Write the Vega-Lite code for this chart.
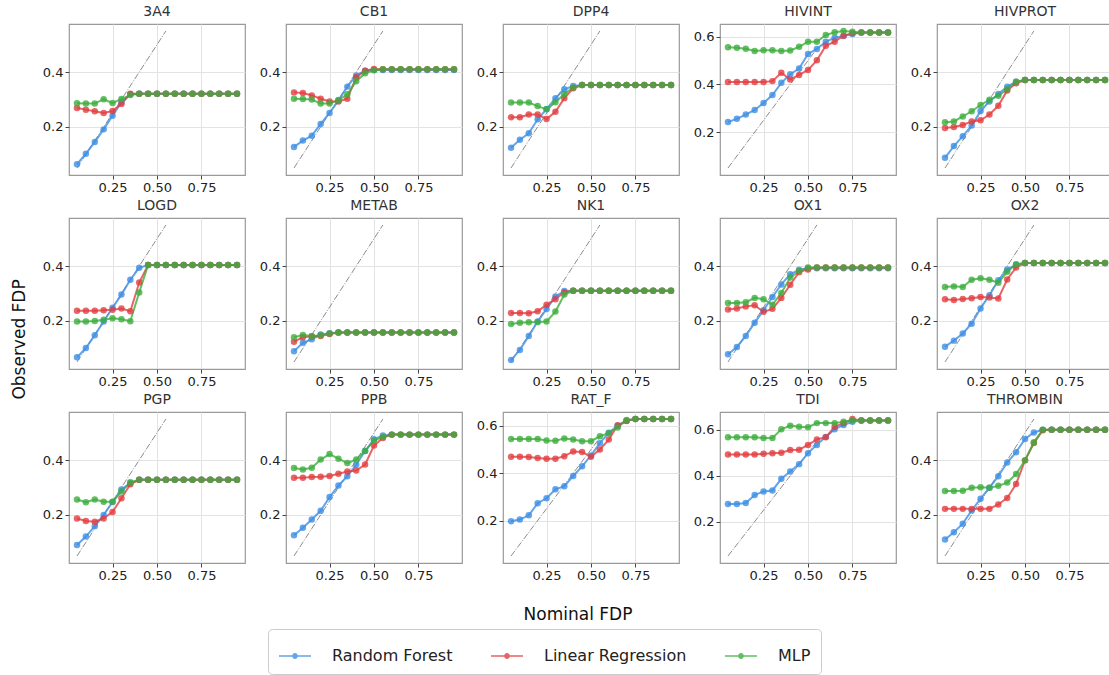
{
"$schema": "https://vega.github.io/schema/vega-lite/v6.json",
"padding": {"left": 10, "top": 4, "right": 0, "bottom": 0},
"background": "white",
"config": {
  "font": "DejaVu Sans",
  "view": {"stroke": "#9a9a9a", "strokeWidth": 1.2},
  "axis": {"gridColor": "#e3e3e3", "domain": false, "tickColor": "#444", "labelFontSize": 13, "labelColor": "#222", "tickSize": 4, "labelPadding": 2, "title": null},
  "header": {"labelFontWeight": 400, "labelFontSize": 14, "titleFontWeight": 400},
  "headerFacet": {"labelFontWeight": 400, "labelFontSize": 14, "titleFontWeight": 400},
  "title": {"fontWeight": 400},
  "style": {"group-title": {"fontWeight": 400}, "guide-title": {"fontWeight": 400}, "guide-label": {"fontWeight": 400}},
  "legend": {"labelFontSize": 16, "labelColor": "#222"}
},
"title": {"text": "Observed FDP", "orient": "left", "fontSize": 17, "fontWeight": "normal", "anchor": "middle", "offset": 13, "color": "#111"},
"data": {"values": [
{"p":"3A4","x":0.05,"a":0.064,"b":0.269,"c":0.286,"g":0.05},
{"p":"3A4","x":0.1,"a":0.102,"b":0.263,"c":0.285},
{"p":"3A4","x":0.15,"a":0.145,"b":0.257,"c":0.285},
{"p":"3A4","x":0.2,"a":0.191,"b":0.251,"c":0.301},
{"p":"3A4","x":0.25,"a":0.241,"b":0.258,"c":0.287},
{"p":"3A4","x":0.3,"a":0.29,"b":0.284,"c":0.302},
{"p":"3A4","x":0.35,"a":0.319,"b":0.321,"c":0.316},
{"p":"3A4","x":0.4,"a":0.321,"b":0.321,"c":0.321},
{"p":"3A4","x":0.45,"a":0.321,"b":0.321,"c":0.321},
{"p":"3A4","x":0.5,"a":0.321,"b":0.321,"c":0.321},
{"p":"3A4","x":0.55,"a":0.321,"b":0.321,"c":0.321,"g":0.55},
{"p":"3A4","x":0.6,"a":0.321,"b":0.321,"c":0.321},
{"p":"3A4","x":0.65,"a":0.321,"b":0.321,"c":0.321},
{"p":"3A4","x":0.7,"a":0.321,"b":0.321,"c":0.321},
{"p":"3A4","x":0.75,"a":0.321,"b":0.321,"c":0.321},
{"p":"3A4","x":0.8,"a":0.321,"b":0.321,"c":0.321},
{"p":"3A4","x":0.85,"a":0.321,"b":0.321,"c":0.321},
{"p":"3A4","x":0.9,"a":0.321,"b":0.321,"c":0.321},
{"p":"3A4","x":0.95,"a":0.321,"b":0.321,"c":0.321},
{"p":"CB1","x":0.05,"a":0.127,"b":0.326,"c":0.303,"g":0.05},
{"p":"CB1","x":0.1,"a":0.15,"b":0.324,"c":0.302},
{"p":"CB1","x":0.15,"a":0.168,"b":0.315,"c":0.3},
{"p":"CB1","x":0.2,"a":0.211,"b":0.303,"c":0.285},
{"p":"CB1","x":0.25,"a":0.251,"b":0.293,"c":0.285},
{"p":"CB1","x":0.3,"a":0.296,"b":0.293,"c":0.298},
{"p":"CB1","x":0.35,"a":0.347,"b":0.303,"c":0.319},
{"p":"CB1","x":0.4,"a":0.388,"b":0.381,"c":0.367},
{"p":"CB1","x":0.45,"a":0.405,"b":0.405,"c":0.396},
{"p":"CB1","x":0.5,"a":0.408,"b":0.411,"c":0.407},
{"p":"CB1","x":0.55,"a":0.408,"b":0.41,"c":0.41,"g":0.55},
{"p":"CB1","x":0.6,"a":0.408,"b":0.41,"c":0.41},
{"p":"CB1","x":0.65,"a":0.408,"b":0.41,"c":0.41},
{"p":"CB1","x":0.7,"a":0.408,"b":0.41,"c":0.41},
{"p":"CB1","x":0.75,"a":0.408,"b":0.41,"c":0.41},
{"p":"CB1","x":0.8,"a":0.408,"b":0.41,"c":0.41},
{"p":"CB1","x":0.85,"a":0.408,"b":0.41,"c":0.41},
{"p":"CB1","x":0.9,"a":0.408,"b":0.41,"c":0.41},
{"p":"CB1","x":0.95,"a":0.408,"b":0.41,"c":0.41},
{"p":"DPP4","x":0.05,"a":0.124,"b":0.235,"c":0.289,"g":0.05},
{"p":"DPP4","x":0.1,"a":0.153,"b":0.235,"c":0.289},
{"p":"DPP4","x":0.15,"a":0.177,"b":0.245,"c":0.289},
{"p":"DPP4","x":0.2,"a":0.228,"b":0.245,"c":0.276},
{"p":"DPP4","x":0.25,"a":0.265,"b":0.229,"c":0.264},
{"p":"DPP4","x":0.3,"a":0.305,"b":0.255,"c":0.29},
{"p":"DPP4","x":0.35,"a":0.337,"b":0.305,"c":0.32},
{"p":"DPP4","x":0.4,"a":0.349,"b":0.341,"c":0.344},
{"p":"DPP4","x":0.45,"a":0.353,"b":0.353,"c":0.353},
{"p":"DPP4","x":0.5,"a":0.353,"b":0.353,"c":0.353},
{"p":"DPP4","x":0.55,"a":0.353,"b":0.353,"c":0.353,"g":0.55},
{"p":"DPP4","x":0.6,"a":0.353,"b":0.353,"c":0.353},
{"p":"DPP4","x":0.65,"a":0.353,"b":0.353,"c":0.353},
{"p":"DPP4","x":0.7,"a":0.353,"b":0.353,"c":0.353},
{"p":"DPP4","x":0.75,"a":0.353,"b":0.353,"c":0.353},
{"p":"DPP4","x":0.8,"a":0.353,"b":0.353,"c":0.353},
{"p":"DPP4","x":0.85,"a":0.353,"b":0.353,"c":0.353},
{"p":"DPP4","x":0.9,"a":0.353,"b":0.353,"c":0.353},
{"p":"DPP4","x":0.95,"a":0.353,"b":0.353,"c":0.353},
{"p":"HIVINT","x":0.05,"a":0.243,"b":0.41,"c":0.556,"g":0.05},
{"p":"HIVINT","x":0.1,"a":0.256,"b":0.41,"c":0.554},
{"p":"HIVINT","x":0.15,"a":0.274,"b":0.41,"c":0.55},
{"p":"HIVINT","x":0.2,"a":0.293,"b":0.41,"c":0.54},
{"p":"HIVINT","x":0.25,"a":0.322,"b":0.41,"c":0.543},
{"p":"HIVINT","x":0.3,"a":0.356,"b":0.414,"c":0.543},
{"p":"HIVINT","x":0.35,"a":0.407,"b":0.449,"c":0.54},
{"p":"HIVINT","x":0.4,"a":0.443,"b":0.421,"c":0.542},
{"p":"HIVINT","x":0.45,"a":0.467,"b":0.44,"c":0.558},
{"p":"HIVINT","x":0.5,"a":0.528,"b":0.461,"c":0.579},
{"p":"HIVINT","x":0.55,"a":0.549,"b":0.501,"c":0.579,"g":0.55},
{"p":"HIVINT","x":0.6,"a":0.579,"b":0.562,"c":0.607},
{"p":"HIVINT","x":0.65,"a":0.596,"b":0.579,"c":0.619},
{"p":"HIVINT","x":0.7,"a":0.603,"b":0.604,"c":0.624},
{"p":"HIVINT","x":0.75,"a":0.611,"b":0.615,"c":0.621},
{"p":"HIVINT","x":0.8,"a":0.618,"b":0.618,"c":0.618},
{"p":"HIVINT","x":0.85,"a":0.618,"b":0.618,"c":0.618},
{"p":"HIVINT","x":0.9,"a":0.618,"b":0.618,"c":0.618},
{"p":"HIVINT","x":0.95,"a":0.618,"b":0.618,"c":0.618},
{"p":"HIVPROT","x":0.05,"a":0.087,"b":0.196,"c":0.217,"g":0.05},
{"p":"HIVPROT","x":0.1,"a":0.13,"b":0.2,"c":0.22},
{"p":"HIVPROT","x":0.15,"a":0.166,"b":0.207,"c":0.238},
{"p":"HIVPROT","x":0.2,"a":0.205,"b":0.22,"c":0.257},
{"p":"HIVPROT","x":0.25,"a":0.258,"b":0.224,"c":0.28},
{"p":"HIVPROT","x":0.3,"a":0.293,"b":0.245,"c":0.299},
{"p":"HIVPROT","x":0.35,"a":0.32,"b":0.277,"c":0.314},
{"p":"HIVPROT","x":0.4,"a":0.347,"b":0.333,"c":0.337},
{"p":"HIVPROT","x":0.45,"a":0.365,"b":0.359,"c":0.365},
{"p":"HIVPROT","x":0.5,"a":0.371,"b":0.371,"c":0.371},
{"p":"HIVPROT","x":0.55,"a":0.371,"b":0.371,"c":0.371,"g":0.55},
{"p":"HIVPROT","x":0.6,"a":0.371,"b":0.371,"c":0.371},
{"p":"HIVPROT","x":0.65,"a":0.371,"b":0.371,"c":0.371},
{"p":"HIVPROT","x":0.7,"a":0.371,"b":0.371,"c":0.371},
{"p":"HIVPROT","x":0.75,"a":0.371,"b":0.371,"c":0.371},
{"p":"HIVPROT","x":0.8,"a":0.371,"b":0.371,"c":0.371},
{"p":"HIVPROT","x":0.85,"a":0.371,"b":0.371,"c":0.371},
{"p":"HIVPROT","x":0.9,"a":0.371,"b":0.371,"c":0.371},
{"p":"HIVPROT","x":0.95,"a":0.371,"b":0.371,"c":0.371},
{"p":"LOGD","x":0.05,"a":0.067,"b":0.237,"c":0.198,"g":0.05},
{"p":"LOGD","x":0.1,"a":0.101,"b":0.237,"c":0.198},
{"p":"LOGD","x":0.15,"a":0.148,"b":0.237,"c":0.2},
{"p":"LOGD","x":0.2,"a":0.198,"b":0.239,"c":0.204},
{"p":"LOGD","x":0.25,"a":0.248,"b":0.241,"c":0.21},
{"p":"LOGD","x":0.3,"a":0.296,"b":0.245,"c":0.206},
{"p":"LOGD","x":0.35,"a":0.35,"b":0.235,"c":0.199},
{"p":"LOGD","x":0.4,"a":0.394,"b":0.34,"c":0.304},
{"p":"LOGD","x":0.45,"a":0.404,"b":0.404,"c":0.404},
{"p":"LOGD","x":0.5,"a":0.404,"b":0.404,"c":0.404},
{"p":"LOGD","x":0.55,"a":0.404,"b":0.404,"c":0.404,"g":0.55},
{"p":"LOGD","x":0.6,"a":0.404,"b":0.404,"c":0.404},
{"p":"LOGD","x":0.65,"a":0.404,"b":0.404,"c":0.404},
{"p":"LOGD","x":0.7,"a":0.404,"b":0.404,"c":0.404},
{"p":"LOGD","x":0.75,"a":0.404,"b":0.404,"c":0.404},
{"p":"LOGD","x":0.8,"a":0.404,"b":0.404,"c":0.404},
{"p":"LOGD","x":0.85,"a":0.404,"b":0.404,"c":0.404},
{"p":"LOGD","x":0.9,"a":0.404,"b":0.404,"c":0.404},
{"p":"LOGD","x":0.95,"a":0.404,"b":0.404,"c":0.404},
{"p":"METAB","x":0.05,"a":0.089,"b":0.124,"c":0.14,"g":0.05},
{"p":"METAB","x":0.1,"a":0.12,"b":0.14,"c":0.149},
{"p":"METAB","x":0.15,"a":0.133,"b":0.144,"c":0.144},
{"p":"METAB","x":0.2,"a":0.15,"b":0.145,"c":0.148},
{"p":"METAB","x":0.25,"a":0.155,"b":0.152,"c":0.154},
{"p":"METAB","x":0.3,"a":0.158,"b":0.158,"c":0.158},
{"p":"METAB","x":0.35,"a":0.158,"b":0.158,"c":0.158},
{"p":"METAB","x":0.4,"a":0.158,"b":0.158,"c":0.158},
{"p":"METAB","x":0.45,"a":0.158,"b":0.158,"c":0.158},
{"p":"METAB","x":0.5,"a":0.158,"b":0.158,"c":0.158},
{"p":"METAB","x":0.55,"a":0.158,"b":0.158,"c":0.158,"g":0.55},
{"p":"METAB","x":0.6,"a":0.158,"b":0.158,"c":0.158},
{"p":"METAB","x":0.65,"a":0.158,"b":0.158,"c":0.158},
{"p":"METAB","x":0.7,"a":0.158,"b":0.158,"c":0.158},
{"p":"METAB","x":0.75,"a":0.158,"b":0.158,"c":0.158},
{"p":"METAB","x":0.8,"a":0.158,"b":0.158,"c":0.158},
{"p":"METAB","x":0.85,"a":0.158,"b":0.158,"c":0.158},
{"p":"METAB","x":0.9,"a":0.158,"b":0.158,"c":0.158},
{"p":"METAB","x":0.95,"a":0.158,"b":0.158,"c":0.158},
{"p":"NK1","x":0.05,"a":0.057,"b":0.229,"c":0.189,"g":0.05},
{"p":"NK1","x":0.1,"a":0.094,"b":0.229,"c":0.193},
{"p":"NK1","x":0.15,"a":0.145,"b":0.228,"c":0.195},
{"p":"NK1","x":0.2,"a":0.198,"b":0.235,"c":0.196},
{"p":"NK1","x":0.25,"a":0.243,"b":0.259,"c":0.198},
{"p":"NK1","x":0.3,"a":0.289,"b":0.279,"c":0.234},
{"p":"NK1","x":0.35,"a":0.309,"b":0.305,"c":0.296},
{"p":"NK1","x":0.4,"a":0.31,"b":0.31,"c":0.31},
{"p":"NK1","x":0.45,"a":0.31,"b":0.31,"c":0.31},
{"p":"NK1","x":0.5,"a":0.31,"b":0.31,"c":0.31},
{"p":"NK1","x":0.55,"a":0.31,"b":0.31,"c":0.31,"g":0.55},
{"p":"NK1","x":0.6,"a":0.31,"b":0.31,"c":0.31},
{"p":"NK1","x":0.65,"a":0.31,"b":0.31,"c":0.31},
{"p":"NK1","x":0.7,"a":0.31,"b":0.31,"c":0.31},
{"p":"NK1","x":0.75,"a":0.31,"b":0.31,"c":0.31},
{"p":"NK1","x":0.8,"a":0.31,"b":0.31,"c":0.31},
{"p":"NK1","x":0.85,"a":0.31,"b":0.31,"c":0.31},
{"p":"NK1","x":0.9,"a":0.31,"b":0.31,"c":0.31},
{"p":"NK1","x":0.95,"a":0.31,"b":0.31,"c":0.31},
{"p":"OX1","x":0.05,"a":0.078,"b":0.242,"c":0.265,"g":0.05},
{"p":"OX1","x":0.1,"a":0.105,"b":0.245,"c":0.265},
{"p":"OX1","x":0.15,"a":0.145,"b":0.253,"c":0.268},
{"p":"OX1","x":0.2,"a":0.193,"b":0.257,"c":0.284},
{"p":"OX1","x":0.25,"a":0.239,"b":0.233,"c":0.279},
{"p":"OX1","x":0.3,"a":0.287,"b":0.244,"c":0.259},
{"p":"OX1","x":0.35,"a":0.333,"b":0.284,"c":0.302},
{"p":"OX1","x":0.4,"a":0.37,"b":0.332,"c":0.358},
{"p":"OX1","x":0.45,"a":0.387,"b":0.378,"c":0.382},
{"p":"OX1","x":0.5,"a":0.392,"b":0.388,"c":0.395},
{"p":"OX1","x":0.55,"a":0.392,"b":0.395,"c":0.395,"g":0.55},
{"p":"OX1","x":0.6,"a":0.392,"b":0.395,"c":0.395},
{"p":"OX1","x":0.65,"a":0.392,"b":0.395,"c":0.395},
{"p":"OX1","x":0.7,"a":0.392,"b":0.395,"c":0.395},
{"p":"OX1","x":0.75,"a":0.392,"b":0.395,"c":0.395},
{"p":"OX1","x":0.8,"a":0.392,"b":0.395,"c":0.395},
{"p":"OX1","x":0.85,"a":0.392,"b":0.395,"c":0.395},
{"p":"OX1","x":0.9,"a":0.392,"b":0.395,"c":0.395},
{"p":"OX1","x":0.95,"a":0.392,"b":0.395,"c":0.395},
{"p":"OX2","x":0.05,"a":0.106,"b":0.279,"c":0.324,"g":0.05},
{"p":"OX2","x":0.1,"a":0.128,"b":0.276,"c":0.326},
{"p":"OX2","x":0.15,"a":0.154,"b":0.28,"c":0.324},
{"p":"OX2","x":0.2,"a":0.19,"b":0.283,"c":0.35},
{"p":"OX2","x":0.25,"a":0.245,"b":0.287,"c":0.356},
{"p":"OX2","x":0.3,"a":0.294,"b":0.285,"c":0.35},
{"p":"OX2","x":0.35,"a":0.348,"b":0.282,"c":0.339},
{"p":"OX2","x":0.4,"a":0.388,"b":0.351,"c":0.379},
{"p":"OX2","x":0.45,"a":0.405,"b":0.395,"c":0.407},
{"p":"OX2","x":0.5,"a":0.411,"b":0.411,"c":0.411},
{"p":"OX2","x":0.55,"a":0.411,"b":0.411,"c":0.411,"g":0.55},
{"p":"OX2","x":0.6,"a":0.411,"b":0.411,"c":0.411},
{"p":"OX2","x":0.65,"a":0.411,"b":0.411,"c":0.411},
{"p":"OX2","x":0.7,"a":0.411,"b":0.411,"c":0.411},
{"p":"OX2","x":0.75,"a":0.411,"b":0.411,"c":0.411},
{"p":"OX2","x":0.8,"a":0.411,"b":0.411,"c":0.411},
{"p":"OX2","x":0.85,"a":0.411,"b":0.411,"c":0.411},
{"p":"OX2","x":0.9,"a":0.411,"b":0.411,"c":0.411},
{"p":"OX2","x":0.95,"a":0.411,"b":0.411,"c":0.411},
{"p":"PGP","x":0.05,"a":0.09,"b":0.187,"c":0.256,"g":0.05},
{"p":"PGP","x":0.1,"a":0.121,"b":0.178,"c":0.246},
{"p":"PGP","x":0.15,"a":0.159,"b":0.175,"c":0.256},
{"p":"PGP","x":0.2,"a":0.2,"b":0.187,"c":0.248},
{"p":"PGP","x":0.25,"a":0.247,"b":0.211,"c":0.248},
{"p":"PGP","x":0.3,"a":0.293,"b":0.261,"c":0.285},
{"p":"PGP","x":0.35,"a":0.316,"b":0.312,"c":0.319},
{"p":"PGP","x":0.4,"a":0.328,"b":0.328,"c":0.328},
{"p":"PGP","x":0.45,"a":0.328,"b":0.328,"c":0.328},
{"p":"PGP","x":0.5,"a":0.328,"b":0.328,"c":0.328},
{"p":"PGP","x":0.55,"a":0.328,"b":0.328,"c":0.328,"g":0.55},
{"p":"PGP","x":0.6,"a":0.328,"b":0.328,"c":0.328},
{"p":"PGP","x":0.65,"a":0.328,"b":0.328,"c":0.328},
{"p":"PGP","x":0.7,"a":0.328,"b":0.328,"c":0.328},
{"p":"PGP","x":0.75,"a":0.328,"b":0.328,"c":0.328},
{"p":"PGP","x":0.8,"a":0.328,"b":0.328,"c":0.328},
{"p":"PGP","x":0.85,"a":0.328,"b":0.328,"c":0.328},
{"p":"PGP","x":0.9,"a":0.328,"b":0.328,"c":0.328},
{"p":"PGP","x":0.95,"a":0.328,"b":0.328,"c":0.328},
{"p":"PPB","x":0.05,"a":0.126,"b":0.336,"c":0.371,"g":0.05},
{"p":"PPB","x":0.1,"a":0.153,"b":0.336,"c":0.366},
{"p":"PPB","x":0.15,"a":0.183,"b":0.338,"c":0.372},
{"p":"PPB","x":0.2,"a":0.215,"b":0.339,"c":0.402},
{"p":"PPB","x":0.25,"a":0.265,"b":0.342,"c":0.422},
{"p":"PPB","x":0.3,"a":0.307,"b":0.35,"c":0.405},
{"p":"PPB","x":0.35,"a":0.341,"b":0.358,"c":0.389},
{"p":"PPB","x":0.4,"a":0.383,"b":0.362,"c":0.402},
{"p":"PPB","x":0.45,"a":0.433,"b":0.384,"c":0.433},
{"p":"PPB","x":0.5,"a":0.476,"b":0.453,"c":0.472},
{"p":"PPB","x":0.55,"a":0.49,"b":0.481,"c":0.484,"g":0.55},
{"p":"PPB","x":0.6,"a":0.493,"b":0.493,"c":0.493},
{"p":"PPB","x":0.65,"a":0.493,"b":0.493,"c":0.493},
{"p":"PPB","x":0.7,"a":0.493,"b":0.493,"c":0.493},
{"p":"PPB","x":0.75,"a":0.493,"b":0.493,"c":0.493},
{"p":"PPB","x":0.8,"a":0.493,"b":0.493,"c":0.493},
{"p":"PPB","x":0.85,"a":0.493,"b":0.493,"c":0.493},
{"p":"PPB","x":0.9,"a":0.493,"b":0.493,"c":0.493},
{"p":"PPB","x":0.95,"a":0.493,"b":0.493,"c":0.493},
{"p":"RAT_F","x":0.05,"a":0.197,"b":0.469,"c":0.544,"g":0.05},
{"p":"RAT_F","x":0.1,"a":0.204,"b":0.469,"c":0.544},
{"p":"RAT_F","x":0.15,"a":0.222,"b":0.468,"c":0.544},
{"p":"RAT_F","x":0.2,"a":0.273,"b":0.464,"c":0.544},
{"p":"RAT_F","x":0.25,"a":0.294,"b":0.461,"c":0.538},
{"p":"RAT_F","x":0.3,"a":0.332,"b":0.461,"c":0.537},
{"p":"RAT_F","x":0.35,"a":0.345,"b":0.472,"c":0.547},
{"p":"RAT_F","x":0.4,"a":0.388,"b":0.492,"c":0.542},
{"p":"RAT_F","x":0.45,"a":0.429,"b":0.49,"c":0.535},
{"p":"RAT_F","x":0.5,"a":0.475,"b":0.469,"c":0.535},
{"p":"RAT_F","x":0.55,"a":0.527,"b":0.5,"c":0.556,"g":0.55},
{"p":"RAT_F","x":0.6,"a":0.571,"b":0.542,"c":0.569},
{"p":"RAT_F","x":0.65,"a":0.601,"b":0.603,"c":0.593},
{"p":"RAT_F","x":0.7,"a":0.622,"b":0.621,"c":0.625},
{"p":"RAT_F","x":0.75,"a":0.629,"b":0.629,"c":0.629},
{"p":"RAT_F","x":0.8,"a":0.629,"b":0.629,"c":0.629},
{"p":"RAT_F","x":0.85,"a":0.629,"b":0.629,"c":0.629},
{"p":"RAT_F","x":0.9,"a":0.629,"b":0.629,"c":0.629},
{"p":"RAT_F","x":0.95,"a":0.629,"b":0.629,"c":0.629},
{"p":"TDI","x":0.05,"a":0.277,"b":0.493,"c":0.568,"g":0.05},
{"p":"TDI","x":0.1,"a":0.277,"b":0.493,"c":0.568},
{"p":"TDI","x":0.15,"a":0.281,"b":0.493,"c":0.568},
{"p":"TDI","x":0.2,"a":0.316,"b":0.493,"c":0.568},
{"p":"TDI","x":0.25,"a":0.332,"b":0.496,"c":0.565},
{"p":"TDI","x":0.3,"a":0.336,"b":0.499,"c":0.565},
{"p":"TDI","x":0.35,"a":0.387,"b":0.501,"c":0.603},
{"p":"TDI","x":0.4,"a":0.419,"b":0.513,"c":0.619},
{"p":"TDI","x":0.45,"a":0.451,"b":0.514,"c":0.614},
{"p":"TDI","x":0.5,"a":0.499,"b":0.535,"c":0.612},
{"p":"TDI","x":0.55,"a":0.535,"b":0.559,"c":0.63,"g":0.55},
{"p":"TDI","x":0.6,"a":0.57,"b":0.568,"c":0.63},
{"p":"TDI","x":0.65,"a":0.603,"b":0.614,"c":0.63},
{"p":"TDI","x":0.7,"a":0.622,"b":0.63,"c":0.636},
{"p":"TDI","x":0.75,"a":0.636,"b":0.648,"c":0.641},
{"p":"TDI","x":0.8,"a":0.641,"b":0.641,"c":0.641},
{"p":"TDI","x":0.85,"a":0.641,"b":0.641,"c":0.641},
{"p":"TDI","x":0.9,"a":0.641,"b":0.641,"c":0.641},
{"p":"TDI","x":0.95,"a":0.641,"b":0.641,"c":0.641},
{"p":"THROMBIN","x":0.05,"a":0.11,"b":0.222,"c":0.287,"g":0.05},
{"p":"THROMBIN","x":0.1,"a":0.137,"b":0.222,"c":0.287},
{"p":"THROMBIN","x":0.15,"a":0.168,"b":0.222,"c":0.288},
{"p":"THROMBIN","x":0.2,"a":0.216,"b":0.222,"c":0.299},
{"p":"THROMBIN","x":0.25,"a":0.259,"b":0.222,"c":0.301},
{"p":"THROMBIN","x":0.3,"a":0.299,"b":0.222,"c":0.299},
{"p":"THROMBIN","x":0.35,"a":0.341,"b":0.238,"c":0.306},
{"p":"THROMBIN","x":0.4,"a":0.391,"b":0.262,"c":0.318},
{"p":"THROMBIN","x":0.45,"a":0.429,"b":0.313,"c":0.349},
{"p":"THROMBIN","x":0.5,"a":0.477,"b":0.399,"c":0.399},
{"p":"THROMBIN","x":0.55,"a":0.501,"b":0.462,"c":0.465,"g":0.55},
{"p":"THROMBIN","x":0.6,"a":0.511,"b":0.509,"c":0.511},
{"p":"THROMBIN","x":0.65,"a":0.511,"b":0.511,"c":0.511},
{"p":"THROMBIN","x":0.7,"a":0.511,"b":0.511,"c":0.511},
{"p":"THROMBIN","x":0.75,"a":0.511,"b":0.511,"c":0.511},
{"p":"THROMBIN","x":0.8,"a":0.511,"b":0.511,"c":0.511},
{"p":"THROMBIN","x":0.85,"a":0.511,"b":0.511,"c":0.511},
{"p":"THROMBIN","x":0.9,"a":0.511,"b":0.511,"c":0.511},
{"p":"THROMBIN","x":0.95,"a":0.511,"b":0.511,"c":0.511}
]},
"facet": {"field": "p", "type": "nominal", "header": {"title": "Nominal FDP", "titleOrient": "bottom", "titleFontSize": 17, "titleFontWeight": 400, "titleColor": "#111", "titlePadding": 44, "labelFontSize": 14, "labelFontWeight": 400, "labelColor": "#333", "labelPadding": 5}},
"columns": 5,
"spacing": {"column": 41, "row": 43},
"bounds": "flush",
"resolve": {"scale": {"y": "independent"}, "axis": {"x": "independent", "y": "independent"}},
"spec": {
  "width": 176,
  "height": 151,
  "layer": [
    {
      "transform": [{"filter": "isValid(datum.g)"}],
      "mark": {"type": "line", "color": "#8c8c8c", "strokeDash": [6.4, 1.6, 1, 1.6], "strokeWidth": 1, "clip": true},
      "encoding": {
        "x": {"field": "x", "type": "quantitative", "scale": {"domain": [0.005, 0.995], "nice": false}, "axis": {"values": [0.25, 0.5, 0.75], "format": ".2f"}},
        "y": {"field": "g", "type": "quantitative", "scale": {"zero": false, "nice": false, "padding": 7}, "axis": {"values": [0.2, 0.4, 0.6], "format": ".1f"}}
      }
    },
    {
      "transform": [{"fold": ["a", "b", "c"], "as": ["k", "y"]}],
      "mark": {"type": "line", "strokeWidth": 2, "opacity": 0.8},
      "encoding": {
        "x": {"field": "x", "type": "quantitative"},
        "y": {"field": "y", "type": "quantitative"},
        "color": {"field": "k", "type": "nominal", "scale": {"domain": ["a", "b", "c"], "range": ["#3D8FE5", "#E23D40", "#3DAE3D"]},
          "legend": {"title": null, "orient": "none", "legendX": 199, "legendY": 605, "direction": "horizontal", "labelExpr": "datum.label == 'a' ? 'Random Forest' : datum.label == 'b' ? 'Linear Regression' : 'MLP'", "symbolType": "M-1,0H1M0.13,0A0.13,0.13,0,1,1,-0.13,0A0.13,0.13,0,1,1,0.13,0Z", "symbolSize": 1024, "symbolStrokeWidth": 1.6, "symbolOpacity": 0.8, "labelFontSize": 16, "columnPadding": 34, "labelOffset": 20, "padding": 10, "strokeColor": "#cccccc", "cornerRadius": 4}}
      }
    },
    {
      "transform": [{"fold": ["a", "b", "c"], "as": ["k", "y"]}],
      "mark": {"type": "circle", "size": 42, "opacity": 0.8},
      "encoding": {
        "x": {"field": "x", "type": "quantitative"},
        "y": {"field": "y", "type": "quantitative"},
        "color": {"field": "k", "type": "nominal"}
      }
    }
  ]
}
}
